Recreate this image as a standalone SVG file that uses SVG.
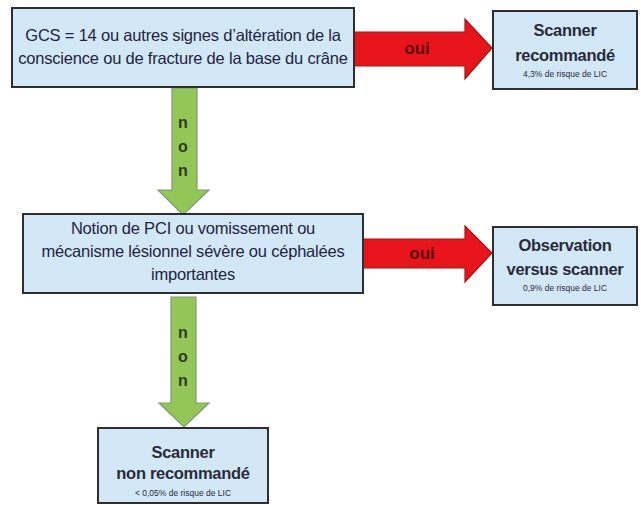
<svg xmlns="http://www.w3.org/2000/svg" width="641" height="505" viewBox="0 0 641 505">
<style>
.box{fill:#d3e8f7;stroke:#2e2e2e;stroke-width:2}
.t{font-family:"Liberation Sans",Arial,sans-serif;font-size:16.5px;fill:#232343;text-anchor:middle;letter-spacing:-0.2px}
.b{font-family:"Liberation Sans",Arial,sans-serif;font-size:16.5px;font-weight:bold;fill:#2a2a3a;text-anchor:middle;letter-spacing:-0.3px}
.s{font-family:"Liberation Sans",Arial,sans-serif;font-size:8.5px;fill:#2a2a3a;text-anchor:middle}
.red{fill:#e8141c;stroke:#9a1a1a;stroke-width:1.2}
.green{fill:#93c657;stroke:#7c9a78;stroke-width:1.2}
.oui{font-family:"Liberation Sans",Arial,sans-serif;font-size:17px;font-weight:bold;fill:#5a1010;text-anchor:middle}
.non{font-family:"Liberation Sans",Arial,sans-serif;font-size:16px;font-weight:bold;fill:#2e3a1e;text-anchor:middle}
</style>
<rect width="641" height="505" fill="#ffffff"/>
<g id="connectors">
  <g id="c1">
    <polygon class="red" points="354,32 465,32 465,19 492,48 465,79 465,66 354,66"/>
    <text class="oui" x="417" y="54">oui</text>
  </g>
  <g id="c2">
    <polygon class="red" points="363,239 465,239 465,226 492,253 465,282 465,268 363,268"/>
    <text class="oui" x="422" y="259">oui</text>
  </g>
  <g id="c3">
    <polygon class="green" points="172,88 197,88 197,190 209,190 183,215 158,190 172,190"/>
    <text class="non" x="183" y="128">n</text>
    <text class="non" x="183" y="152">o</text>
    <text class="non" x="183" y="176">n</text>
  </g>
  <g id="c4">
    <polygon class="green" points="171,297 196,297 196,403 209,403 184,427 159,403 171,403"/>
    <text class="non" x="183" y="338">n</text>
    <text class="non" x="183" y="362">o</text>
    <text class="non" x="183" y="386">n</text>
  </g>
</g>
<g id="n1">
  <rect class="box" x="12" y="8" width="342" height="79"/>
  <text class="t" x="183" y="41">GCS = 14 ou autres signes d’altération de la</text>
  <text class="t" x="183" y="64">conscience ou de fracture de la base du crâne</text>
</g>
<g id="n2">
  <rect class="box" x="493" y="11" width="144" height="78"/>
  <text class="b" x="565" y="36">Scanner</text>
  <text class="b" x="565" y="61">recommandé</text>
  <text class="s" x="565" y="77">4,3% de risque de LIC</text>
</g>
<g id="n3">
  <rect class="box" x="23" y="214" width="340" height="79"/>
  <text class="t" x="193" y="234">Notion de PCI ou vomissement ou</text>
  <text class="t" x="193" y="257">mécanisme lésionnel  sévère ou céphalées</text>
  <text class="t" x="193" y="280">importantes</text>
</g>
<g id="n4">
  <rect class="box" x="493" y="227" width="144" height="78"/>
  <text class="b" x="565" y="251">Observation</text>
  <text class="b" x="565" y="275">versus scanner</text>
  <text class="s" x="565" y="291">0,9% de risque de LIC</text>
</g>
<g id="n5">
  <rect class="box" x="98" y="428" width="170" height="75"/>
  <text class="b" x="183" y="458">Scanner</text>
  <text class="b" x="183" y="479">non recommandé</text>
  <text class="s" x="183" y="496">&lt; 0,05% de risque de LIC</text>
</g>
</svg>
